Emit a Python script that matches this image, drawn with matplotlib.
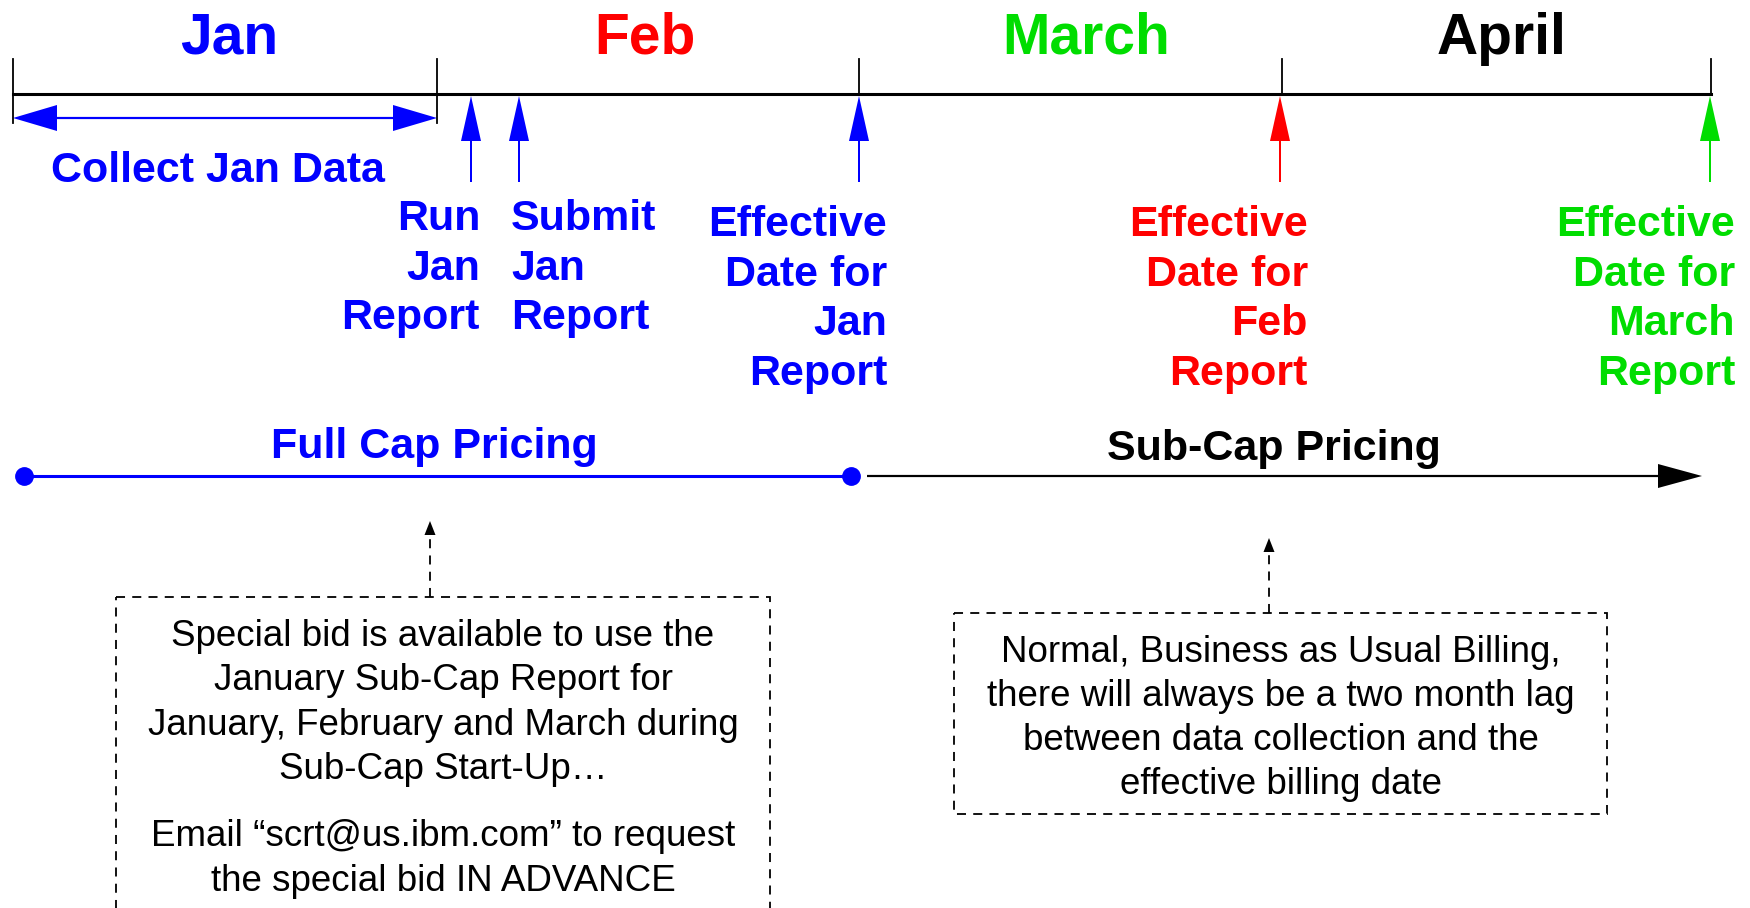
import matplotlib.pyplot as plt
from matplotlib.patches import Rectangle

plt.rcParams['font.family'] = ['Liberation Sans', 'DejaVu Sans']

BLUE = '#0000FF'
RED = '#FF0000'
GREEN = '#00DD00'
BLACK = '#000000'

# months along the top timeline
months = ['Jan', 'Feb', 'March', 'April']
month_colors = [BLUE, RED, GREEN, BLACK]
month_label_x = [229, 645, 1086, 1502]
month_edges = [13, 437, 859, 1282, 1711]

# milestone arrows (x position on the timeline)
milestone_x = [471, 519, 859, 1280, 1710]
milestone_colors = [BLUE, BLUE, BLUE, RED, GREEN]
milestone_text = [
    ['Run', 'Jan', 'Report'],
    ['Submit', 'Jan', 'Report'],
    ['Effective', 'Date for', 'Jan', 'Report'],
    ['Effective', 'Date for', 'Feb', 'Report'],
    ['Effective', 'Date for', 'March', 'Report'],
]
milestone_text_x = [480, 511, 887, 1308, 1735]
milestone_align = ['right', 'left', 'right', 'right', 'right']

# pricing periods
full_cap = (24, 851)
sub_cap = (867, 1702)

note_left = ['Special bid is available to use the',
             'January Sub-Cap Report for',
             'January, February and March during',
             'Sub-Cap Start-Up\u2026']
note_left2 = ['Email \u201cscrt@us.ibm.com\u201d to request',
              'the special bid IN ADVANCE']
note_right = ['Normal, Business as Usual Billing,',
              'there will always be a two month lag',
              'between data collection and the',
              'effective billing date']

DY = 4  # small downward nudge for text baselines

fig = plt.figure(figsize=(17.5, 9.08), dpi=100)
ax = fig.add_axes([0, 0, 1, 1])
ax.set_xlim(0, 1750)
ax.set_ylim(908, 0)
ax.axis('off')

# main timeline
y_line = 94
ax.plot([month_edges[0], month_edges[-1]], [y_line, y_line], color=BLACK, lw=2.2)
for i, xe in enumerate(month_edges):
    y_bot = 123 if i < 2 else y_line
    ax.plot([xe, xe], [59, y_bot], color=BLACK, lw=1.3)
for m, c, xc in zip(months, month_colors, month_label_x):
    ax.text(xc, 35 + DY, m, color=c, fontsize=41, fontweight='bold',
            ha='center', va='center')

# collect Jan data double arrow
y_da = 118
mid = (month_edges[0] + month_edges[1]) / 2
for end in (month_edges[0], month_edges[1]):
    ax.arrow(mid, y_da, end - mid, 0, width=2.2, head_width=26, head_length=44,
             length_includes_head=True, color=BLUE, lw=0)
ax.text(218, 167 + DY, 'Collect Jan Data', color=BLUE, fontsize=31,
        fontweight='bold', ha='center', va='center')

# milestone arrows and labels
for x, c, lines, tx, al in zip(milestone_x, milestone_colors, milestone_text,
                               milestone_text_x, milestone_align):
    ax.arrow(x, 182, 0, 96 - 182, width=2, head_width=20, head_length=45,
             length_includes_head=True, color=c, lw=0)
    y0 = 215 if len(lines) == 3 else 221
    for k, ln in enumerate(lines):
        ax.text(tx, y0 + DY + 49.5 * k, ln, color=c, fontsize=31,
                fontweight='bold', ha=al, va='center')

# pricing lines
y_p = 476
ax.plot(full_cap, [y_p, y_p], color=BLUE, lw=2.2, marker='o', markersize=12.5,
        markerfacecolor=BLUE, markeredgecolor=BLUE)
ax.arrow(sub_cap[0], y_p, sub_cap[1] - sub_cap[0], 0, width=2.2, head_width=24,
         head_length=44, length_includes_head=True, color=BLACK, lw=0)
ax.text(434, 443 + DY, 'Full Cap Pricing', color=BLUE, fontsize=31,
        fontweight='bold', ha='center', va='center')
ax.text(1274, 445 + DY, 'Sub-Cap Pricing', color=BLACK, fontsize=31,
        fontweight='bold', ha='center', va='center')

# note boxes with dashed pointer arrows
def note_box(x0, x1, y0, y1, ax_x, ax_top):
    ax.add_patch(Rectangle((x0, y0), x1 - x0, y1 - y0, fill=False, ec=BLACK,
                           lw=1.3, ls=(0, (5, 4))))
    ax.plot([ax_x, ax_x], [y0, ax_top + 12], color=BLACK, lw=1.3, ls=(0, (5, 4)))
    ax.arrow(ax_x, ax_top + 14, 0, -14, width=0.5, head_width=11, head_length=14,
             length_includes_head=True, color=BLACK, lw=0)

note_box(116, 770, 597, 940, 430, 521)
for k, ln in enumerate(note_left):
    ax.text(443, 632 + DY + 44.6 * k, ln, fontsize=26.5, ha='center', va='center')
for k, ln in enumerate(note_left2):
    ax.text(443, 833 + DY + 44.6 * k, ln, fontsize=26.5, ha='center', va='center')

note_box(954, 1607, 613, 814, 1269, 538)
for k, ln in enumerate(note_right):
    ax.text(1281, 648 + DY + 44.3 * k, ln, fontsize=26.5, ha='center', va='center')

fig.savefig('out.png', dpi=100)
